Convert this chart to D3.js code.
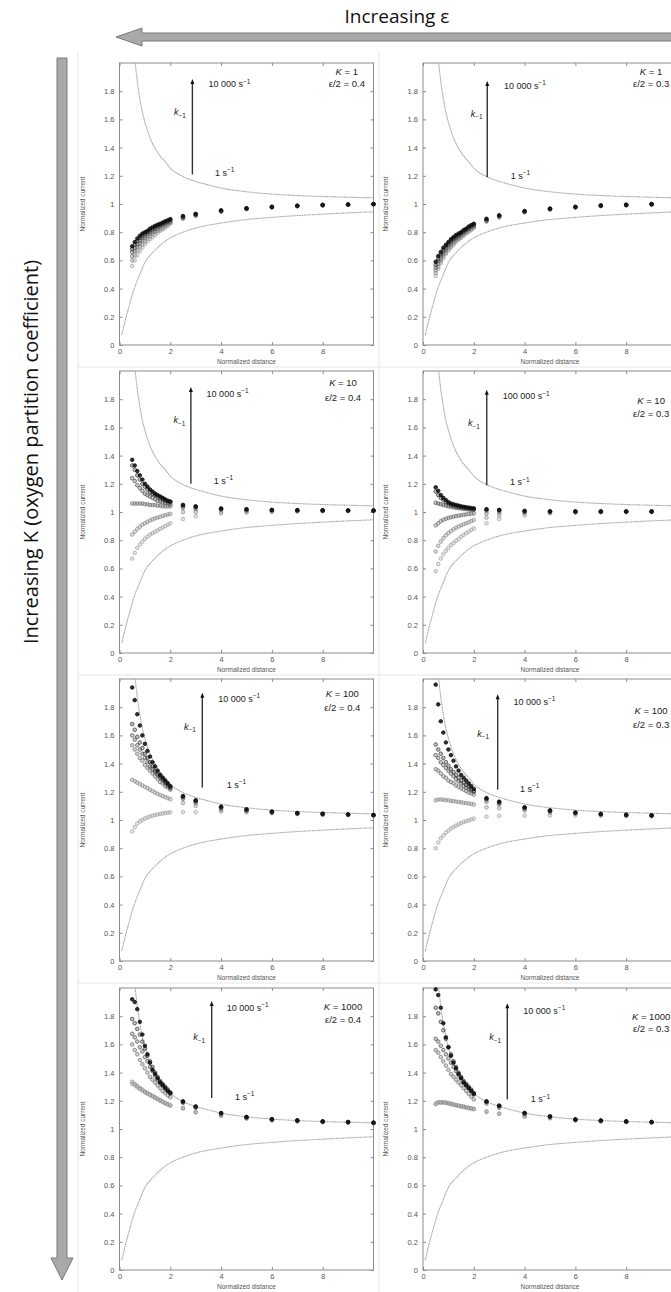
<!DOCTYPE html>
<html>
<head>
<meta charset="utf-8">
<script src="https://cdn.jsdelivr.net/npm/d3@7"></script>
<style>
  html, body { margin: 0; padding: 0; background: #fff; }
  svg { display: block; }
  text { font-family: "Liberation Sans", Arial, sans-serif; }
  .big { font-family: "Open Sans", "Noto Sans", sans-serif; }
</style>
</head>
<body>
<svg id="fig" width="671" height="1292"></svg>
<script>
// ---- Data -----------------------------------------------------------
// Normalized tip-substrate distance of the simulated points
const distance = [0.5,0.6,0.7,0.8,0.9,1.0,1.1,1.2,1.3,1.4,1.5,1.6,1.7,1.8,1.9,2.0,2.5,3,4,5,6,7,8,9,10];

// Limiting approach curves (pure positive and pure negative feedback)
const conductorDistance = [0.55,0.6,0.7,0.8,0.9,1.0,1.2,1.4,1.6,1.8,2.0,2.5,3,3.5,4,5,6,7,8,9,10];
const conductorCurrent  = [2.15,2.04,1.87,1.75,1.65,1.58,1.47,1.395,1.34,1.30,1.255,1.195,1.16,1.135,1.113,1.087,1.07,1.06,1.053,1.048,1.044];
const insulatorDistance = [0.09,0.2,0.3,0.4,0.5,0.6,0.8,1.0,1.25,1.5,1.75,2,2.5,3,3.5,4,5,6,7,8,9,10];
const insulatorCurrent  = [0.07,0.155,0.225,0.29,0.355,0.41,0.50,0.585,0.645,0.69,0.73,0.76,0.80,0.83,0.85,0.865,0.89,0.905,0.918,0.928,0.937,0.945];

// Panel parameters (row-major: K increases downwards, ε/2 = 0.4 left, 0.3 right)
const partitionK   = [1, 1, 10, 10, 100, 100, 1000, 1000];
const halfEpsilon  = ["0.4", "0.3", "0.4", "0.3", "0.4", "0.3", "0.4", "0.3"];
const fastestRate  = ["10 000", "10 000", "10 000", "100 000", "10 000", "10 000", "10 000", "10 000"];
const slowestRate  = ["1", "1", "1", "1", "1", "1", "1", "1"];

// Normalized current, one row per rate constant k-1 (fastest first)
const currentK1e04 = [
  [0.70,0.73,0.755,0.775,0.79,0.80,0.81,0.825,0.835,0.845,0.853,0.86,0.868,0.877,0.885,0.893,0.915,0.93,0.955,0.97,0.98,0.988,0.994,0.997,1.0],
  [0.68,0.71,0.735,0.76,0.775,0.79,0.80,0.815,0.825,0.835,0.845,0.853,0.862,0.87,0.878,0.886,0.91,0.927,0.953,0.968,0.979,0.987,0.993,0.996,0.999],
  [0.66,0.69,0.715,0.74,0.76,0.775,0.79,0.80,0.815,0.825,0.835,0.845,0.855,0.863,0.872,0.88,0.905,0.924,0.95,0.967,0.978,0.986,0.992,0.996,0.999],
  [0.63,0.665,0.695,0.72,0.74,0.76,0.775,0.79,0.80,0.81,0.825,0.835,0.845,0.855,0.864,0.873,0.902,0.921,0.948,0.966,0.977,0.985,0.991,0.995,0.999],
  [0.60,0.635,0.665,0.695,0.715,0.735,0.755,0.77,0.785,0.80,0.81,0.82,0.83,0.843,0.855,0.866,0.898,0.918,0.946,0.965,0.976,0.985,0.99,0.995,0.998],
  [0.56,0.60,0.635,0.665,0.69,0.715,0.735,0.75,0.765,0.78,0.795,0.81,0.82,0.83,0.845,0.86,0.895,0.915,0.945,0.964,0.976,0.984,0.99,0.994,0.998]
];
const currentK1e03 = [
  [0.59,0.63,0.66,0.69,0.71,0.73,0.75,0.765,0.78,0.79,0.80,0.815,0.825,0.84,0.85,0.86,0.895,0.92,0.95,0.967,0.98,0.99,0.995,1.0,1.0],
  [0.57,0.61,0.645,0.675,0.70,0.72,0.74,0.755,0.77,0.78,0.795,0.808,0.82,0.833,0.845,0.855,0.89,0.917,0.948,0.966,0.979,0.989,0.994,0.999,1.0],
  [0.55,0.595,0.63,0.66,0.685,0.71,0.73,0.745,0.76,0.772,0.787,0.80,0.813,0.826,0.838,0.85,0.886,0.914,0.946,0.965,0.978,0.988,0.993,0.998,0.999],
  [0.53,0.575,0.61,0.645,0.67,0.695,0.715,0.733,0.75,0.763,0.778,0.792,0.805,0.818,0.83,0.843,0.882,0.911,0.944,0.963,0.977,0.987,0.992,0.997,0.999],
  [0.51,0.555,0.595,0.63,0.655,0.68,0.70,0.72,0.74,0.754,0.769,0.783,0.797,0.81,0.822,0.836,0.878,0.908,0.942,0.962,0.976,0.986,0.991,0.996,0.998],
  [0.49,0.54,0.58,0.615,0.645,0.67,0.69,0.71,0.73,0.745,0.76,0.775,0.79,0.80,0.815,0.83,0.875,0.905,0.94,0.96,0.975,0.985,0.99,0.995,0.998]
];
const currentK10e04 = [
  [1.37,1.33,1.29,1.26,1.23,1.20,1.18,1.16,1.145,1.13,1.12,1.11,1.10,1.09,1.08,1.075,1.05,1.04,1.025,1.02,1.015,1.013,1.012,1.011,1.01],
  [1.33,1.30,1.26,1.23,1.20,1.18,1.16,1.14,1.13,1.12,1.11,1.10,1.09,1.08,1.075,1.07,1.048,1.038,1.024,1.018,1.014,1.012,1.011,1.01,1.01],
  [1.24,1.22,1.19,1.17,1.15,1.13,1.12,1.11,1.10,1.09,1.08,1.075,1.07,1.065,1.06,1.055,1.04,1.03,1.02,1.015,1.012,1.01,1.01,1.01,1.01],
  [1.06,1.06,1.06,1.06,1.06,1.055,1.055,1.05,1.05,1.05,1.045,1.045,1.04,1.04,1.04,1.04,1.03,1.02,1.015,1.01,1.01,1.01,1.01,1.01,1.01],
  [0.84,0.86,0.88,0.895,0.91,0.92,0.93,0.94,0.948,0.955,0.96,0.966,0.972,0.977,0.982,0.986,1.0,1.0,1.0,1.003,1.005,1.006,1.007,1.008,1.008],
  [0.67,0.71,0.745,0.77,0.79,0.81,0.825,0.84,0.85,0.86,0.87,0.88,0.89,0.90,0.91,0.92,0.95,0.97,0.99,0.995,1.0,1.003,1.005,1.006,1.007]
];
const currentK10e03 = [
  [1.175,1.15,1.12,1.10,1.085,1.07,1.06,1.055,1.05,1.045,1.04,1.037,1.034,1.031,1.028,1.026,1.02,1.015,1.008,1.005,1.004,1.004,1.004,1.004,1.004],
  [1.145,1.12,1.10,1.085,1.07,1.06,1.05,1.045,1.04,1.037,1.034,1.031,1.028,1.025,1.022,1.02,1.017,1.013,1.006,1.004,1.004,1.004,1.004,1.004,1.004],
  [1.065,1.06,1.055,1.05,1.045,1.04,1.037,1.034,1.031,1.028,1.025,1.022,1.02,1.018,1.016,1.015,1.01,1.008,1.004,1.003,1.003,1.003,1.003,1.003,1.003],
  [0.905,0.92,0.935,0.945,0.952,0.958,0.963,0.967,0.971,0.974,0.977,0.98,0.983,0.985,0.987,0.99,0.99,0.995,0.998,1.0,1.0,1.001,1.002,1.002,1.003],
  [0.72,0.76,0.79,0.815,0.835,0.85,0.865,0.877,0.888,0.897,0.905,0.913,0.92,0.927,0.935,0.943,0.96,0.975,0.99,0.995,0.998,1.0,1.0,1.001,1.002],
  [0.58,0.63,0.67,0.70,0.725,0.745,0.765,0.78,0.795,0.81,0.825,0.838,0.85,0.862,0.873,0.884,0.92,0.95,0.975,0.99,0.995,0.998,1.0,1.0,1.001]
];
const currentK100e04 = [
  [1.94,1.85,1.75,1.67,1.60,1.54,1.49,1.45,1.41,1.38,1.35,1.32,1.30,1.28,1.26,1.24,1.17,1.14,1.095,1.076,1.06,1.05,1.045,1.04,1.036],
  [1.68,1.64,1.59,1.55,1.51,1.47,1.44,1.41,1.38,1.35,1.33,1.31,1.29,1.27,1.25,1.23,1.165,1.135,1.09,1.073,1.058,1.048,1.043,1.039,1.035],
  [1.60,1.57,1.53,1.50,1.47,1.44,1.41,1.38,1.36,1.34,1.32,1.30,1.28,1.26,1.245,1.225,1.16,1.13,1.088,1.07,1.056,1.047,1.042,1.038,1.034],
  [1.53,1.50,1.47,1.44,1.42,1.39,1.37,1.35,1.33,1.31,1.29,1.27,1.26,1.24,1.23,1.215,1.15,1.12,1.08,1.065,1.053,1.045,1.04,1.037,1.033],
  [1.285,1.275,1.265,1.255,1.245,1.235,1.225,1.215,1.205,1.195,1.185,1.177,1.17,1.162,1.155,1.147,1.12,1.10,1.07,1.06,1.05,1.043,1.039,1.036,1.032],
  [0.92,0.95,0.975,0.99,1.00,1.01,1.018,1.025,1.03,1.035,1.04,1.043,1.046,1.049,1.052,1.055,1.055,1.055,1.06,1.055,1.048,1.042,1.038,1.035,1.032]
];
const currentK100e03 = [
  [1.96,1.82,1.70,1.62,1.55,1.50,1.46,1.42,1.38,1.35,1.32,1.30,1.28,1.26,1.24,1.22,1.155,1.13,1.09,1.068,1.053,1.043,1.037,1.033,1.03],
  [1.535,1.50,1.47,1.44,1.41,1.385,1.36,1.34,1.32,1.30,1.28,1.265,1.25,1.235,1.22,1.205,1.15,1.125,1.088,1.066,1.052,1.042,1.036,1.032,1.03],
  [1.46,1.44,1.41,1.39,1.37,1.35,1.33,1.31,1.29,1.275,1.26,1.245,1.23,1.22,1.21,1.20,1.145,1.12,1.085,1.064,1.05,1.041,1.035,1.032,1.029],
  [1.36,1.35,1.33,1.31,1.30,1.28,1.27,1.26,1.245,1.235,1.225,1.215,1.205,1.195,1.19,1.18,1.13,1.11,1.078,1.06,1.048,1.04,1.034,1.031,1.028],
  [1.14,1.145,1.145,1.145,1.14,1.14,1.135,1.135,1.13,1.128,1.125,1.122,1.12,1.117,1.114,1.11,1.09,1.083,1.066,1.052,1.044,1.037,1.032,1.03,1.027],
  [0.80,0.84,0.87,0.89,0.91,0.925,0.94,0.95,0.96,0.97,0.978,0.985,0.992,0.998,1.004,1.01,1.024,1.03,1.03,1.032,1.032,1.03,1.028,1.027,1.026]
];
const currentK1000e04 = [
  [1.92,1.90,1.85,1.76,1.67,1.59,1.53,1.47,1.42,1.39,1.36,1.33,1.31,1.29,1.27,1.255,1.196,1.16,1.113,1.085,1.07,1.061,1.054,1.05,1.045],
  [1.78,1.75,1.71,1.67,1.62,1.57,1.52,1.48,1.44,1.40,1.37,1.34,1.32,1.30,1.28,1.26,1.194,1.158,1.112,1.084,1.069,1.06,1.053,1.049,1.044],
  [1.675,1.65,1.62,1.58,1.55,1.51,1.48,1.44,1.41,1.38,1.35,1.33,1.31,1.29,1.27,1.25,1.19,1.155,1.11,1.083,1.068,1.06,1.053,1.048,1.044],
  [1.60,1.56,1.53,1.49,1.46,1.43,1.40,1.37,1.35,1.33,1.31,1.29,1.27,1.255,1.24,1.225,1.185,1.15,1.105,1.08,1.066,1.058,1.052,1.047,1.043],
  [1.335,1.32,1.305,1.29,1.28,1.265,1.255,1.245,1.235,1.225,1.215,1.205,1.195,1.185,1.177,1.168,1.15,1.12,1.095,1.075,1.062,1.055,1.05,1.046,1.042],
  [1.32,1.31,1.295,1.283,1.272,1.26,1.25,1.24,1.23,1.22,1.21,1.2,1.19,1.181,1.173,1.165,1.145,1.118,1.093,1.074,1.061,1.054,1.049,1.045,1.042]
];
const currentK1000e03 = [
  [1.99,1.95,1.86,1.75,1.65,1.58,1.52,1.47,1.43,1.39,1.36,1.33,1.31,1.29,1.27,1.25,1.196,1.166,1.114,1.09,1.068,1.06,1.054,1.05,1.046],
  [1.86,1.82,1.76,1.70,1.64,1.58,1.53,1.48,1.44,1.40,1.37,1.34,1.32,1.30,1.28,1.255,1.194,1.164,1.113,1.089,1.067,1.059,1.053,1.049,1.045],
  [1.64,1.62,1.59,1.56,1.53,1.50,1.47,1.44,1.41,1.38,1.36,1.33,1.31,1.29,1.27,1.245,1.19,1.16,1.11,1.087,1.066,1.058,1.053,1.049,1.045],
  [1.56,1.54,1.51,1.48,1.45,1.42,1.39,1.37,1.35,1.33,1.31,1.29,1.27,1.25,1.23,1.21,1.18,1.15,1.105,1.084,1.065,1.057,1.052,1.048,1.044],
  [1.18,1.19,1.19,1.19,1.188,1.185,1.18,1.175,1.17,1.167,1.163,1.16,1.155,1.15,1.147,1.143,1.125,1.11,1.09,1.078,1.062,1.055,1.05,1.047,1.043],
  [1.175,1.185,1.187,1.186,1.184,1.18,1.176,1.171,1.167,1.163,1.159,1.155,1.151,1.147,1.143,1.14,1.12,1.107,1.088,1.076,1.061,1.054,1.05,1.046,1.043]
];
const panelCurrents = [currentK1e04, currentK1e03, currentK10e04, currentK10e03,
                       currentK100e04, currentK100e03, currentK1000e04, currentK1000e03];

const yTicks = [0, 0.2, 0.4, 0.6, 0.8, 1, 1.2, 1.4, 1.6, 1.8];
const xTicks = [0, 2, 4, 6, 8];

// ---- Layout ---------------------------------------------------------
const colLeft = [119.5, 423];
const rowTop  = [63, 371, 679, 988];
const plotW = 254, plotH = 282;

// annotation placement per panel, in data units:
// arrow x, arrow bottom, arrow top, fast-label x/y, k label x/y, slow-label x/y, K label x/y, ε label y
const notePlace = [
  {ax: 2.87, ay0: 1.21, ay1: 1.88, fx: 3.50, fy: 1.85, kx: 2.38, ky: 1.65, sx: 3.76, sy: 1.22, Ky: 1.94, Ey: 1.855, Kx: 8.95},
  {ax: 2.53, ay0: 1.19, ay1: 1.865, fx: 3.19, fy: 1.84, kx: 2.11, ky: 1.64, sx: 3.45, sy: 1.20, Ky: 1.94, Ey: 1.855, Kx: 8.98},
  {ax: 2.81, ay0: 1.20, ay1: 1.88, fx: 3.43, fy: 1.84, kx: 2.36, ky: 1.65, sx: 3.71, sy: 1.22, Ky: 1.915, Ey: 1.815, Kx: 8.8},
  {ax: 2.51, ay0: 1.19, ay1: 1.86, fx: 3.14, fy: 1.82, kx: 2.01, ky: 1.63, sx: 3.43, sy: 1.21, Ky: 1.79, Ey: 1.70, Kx: 8.98},
  {ax: 3.26, ay0: 1.23, ay1: 1.895, fx: 3.89, fy: 1.86, kx: 2.77, ky: 1.66, sx: 4.22, sy: 1.25, Ky: 1.90, Ey: 1.80, Kx: 8.77},
  {ax: 2.94, ay0: 1.215, ay1: 1.885, fx: 3.56, fy: 1.84, kx: 2.37, ky: 1.61, sx: 3.82, sy: 1.22, Ky: 1.78, Ey: 1.68, Kx: 8.98},
  {ax: 3.63, ay0: 1.22, ay1: 1.90, fx: 4.22, fy: 1.86, kx: 3.14, ky: 1.65, sx: 4.55, sy: 1.23, Ky: 1.87, Ey: 1.78, Kx: 8.8},
  {ax: 3.32, ay0: 1.21, ay1: 1.885, fx: 3.95, fy: 1.84, kx: 2.84, ky: 1.65, sx: 4.24, sy: 1.21, Ky: 1.80, Ey: 1.71, Kx: 8.98}
];

const shadeStroke = ["#0c0c0c", "#3a3a3a", "#585858", "#747474", "#8e8e8e", "#a6a6a6"];

const svg = d3.select("#fig");

// faint borders between the sub-figures
const borders = svg.append("g").attr("stroke", "#e6e6e6").attr("stroke-width", 1);
[78, 379].forEach(xx => borders.append("line").attr("x1", xx).attr("x2", xx).attr("y1", 52).attr("y2", 1292));
[367, 675, 983].forEach(yy => borders.append("line").attr("x1", 78).attr("x2", 671).attr("y1", yy).attr("y2", yy));

const fmtTick = d => String(+d.toFixed(1));

partitionK.forEach((K, i) => {
  const col = i % 2, row = Math.floor(i / 2);
  const left = colLeft[col], top = rowTop[row];
  const x = d3.scaleLinear().domain([0, 10]).range([left, left + plotW]);
  const y = d3.scaleLinear().domain([0, 2]).range([top + plotH, top]);
  const g = svg.append("g");
  const clipId = "clip" + i;
  g.append("clipPath").attr("id", clipId)
    .append("rect").attr("x", left).attr("y", top).attr("width", plotW).attr("height", plotH);

  // axes with inward ticks on all four sides
  const axL = g.append("g").attr("transform", `translate(${left},0)`)
    .call(d3.axisLeft(y).tickValues(yTicks).tickSize(-3).tickPadding(5).tickFormat(fmtTick));
  const axR = g.append("g").attr("transform", `translate(${left + plotW},0)`)
    .call(d3.axisRight(y).tickValues(yTicks).tickSize(-3).tickFormat(""));
  const axB = g.append("g").attr("transform", `translate(0,${top + plotH})`)
    .call(d3.axisBottom(x).tickValues(xTicks).tickSize(-3).tickPadding(4).tickFormat(d3.format("d")));
  const axT = g.append("g").attr("transform", `translate(0,${top})`)
    .call(d3.axisTop(x).tickValues(xTicks).tickSize(-3).tickFormat(""));
  [axL, axR, axB, axT].forEach(a => {
    a.select(".domain").remove();
    a.selectAll(".tick line").attr("stroke", "#8a8a8a");
    a.selectAll(".tick text").attr("fill", "#555").attr("font-size", 7.5);
  });

  g.append("rect").attr("x", left).attr("y", top).attr("width", plotW).attr("height", plotH)
    .attr("fill", "none").attr("stroke", "#8c8c8c").attr("stroke-width", 1);

  g.append("text").attr("x", left + plotW / 2).attr("y", top + plotH + 19)
    .attr("text-anchor", "middle").attr("font-size", 6.5).attr("fill", "#555")
    .text("Normalized distance");
  g.append("text").attr("transform", `translate(${left - 35},${top + plotH / 2}) rotate(-90)`)
    .attr("text-anchor", "middle").attr("font-size", 6.5).attr("fill", "#555")
    .text("Normalized current");

  // limiting approach curves
  const theory = g.append("g").attr("clip-path", `url(#${clipId})`);
  const line = d3.line().x(d => x(d[0])).y(d => y(d[1])).curve(d3.curveMonotoneX);
  [[conductorDistance, conductorCurrent], [insulatorDistance, insulatorCurrent]].forEach(([xs, ys]) => {
    theory.append("path").datum(d3.zip(xs, ys)).attr("d", line)
      .attr("fill", "none").attr("stroke", "#a4a4a4").attr("stroke-width", 1.1)
      .attr("stroke-dasharray", "1.2 0.5");
  });

  // simulated points, slowest rate drawn first
  const series = panelCurrents[i];
  for (let s = series.length - 1; s >= 0; s--) {
    g.append("g").selectAll("circle").data(d3.zip(distance, series[s])).join("circle")
      .attr("cx", d => x(d[0])).attr("cy", d => y(d[1])).attr("r", 1.8)
      .attr("fill", shadeStroke[s]).attr("fill-opacity", s === 0 ? 0.85 : 0.3)
      .attr("stroke", shadeStroke[s]).attr("stroke-width", 0.75);
  }

  // k-1 arrow
  const n = notePlace[i];
  g.append("line").attr("x1", x(n.ax)).attr("x2", x(n.ax)).attr("y1", y(n.ay0)).attr("y2", y(n.ay1) + 3)
    .attr("stroke", "#333").attr("stroke-width", 1.4);
  const tx = x(n.ax), ty = y(n.ay1);
  g.append("path").attr("d", `M${tx},${ty - 1}L${tx - 2},${ty + 4}L${tx + 2},${ty + 4}Z`).attr("fill", "#111");

  const rateLabel = (xx, yy, value) => {
    const t = g.append("text").attr("x", x(xx)).attr("y", y(yy) + 3).attr("font-size", 9).attr("fill", "#222");
    t.append("tspan").text(value + " s");
    t.append("tspan").attr("dy", -3.5).attr("font-size", 6.5).text("\u22121");
  };
  rateLabel(n.fx, n.fy, fastestRate[i]);
  rateLabel(n.sx, n.sy, slowestRate[i]);

  const kt = g.append("text").attr("x", x(n.kx)).attr("y", y(n.ky) + 3).attr("text-anchor", "middle")
    .attr("font-size", 9).attr("fill", "#222");
  kt.append("tspan").attr("font-style", "italic").text("k");
  kt.append("tspan").attr("dy", 2.5).attr("font-size", 6.5).text("\u22121");

  const Kt = g.append("text").attr("x", x(n.Kx)).attr("y", y(n.Ky) + 3.5).attr("text-anchor", "middle")
    .attr("font-size", 9.5).attr("fill", "#222");
  Kt.append("tspan").attr("font-style", "italic").text("K");
  Kt.append("tspan").text(" = " + K);
  g.append("text").attr("x", x(n.Kx)).attr("y", y(n.Ey) + 3.5).attr("text-anchor", "middle")
    .attr("font-size", 9.5).attr("fill", "#222").text("\u03b5/2 = " + halfEpsilon[i]);
});

// ---- Outer annotations ---------------------------------------------
// horizontal arrow: ε increases to the left
svg.append("path")
  .attr("d", "M116,37 L142,28 L142,33 L672,33 L672,41 L142,41 L142,46 Z")
  .attr("fill", "#a9a9a9").attr("stroke", "#7a7a7a").attr("stroke-width", 1);
svg.append("text").attr("class", "big").attr("x", 397).attr("y", 23).attr("text-anchor", "middle")
  .attr("font-size", 19).attr("fill", "#111").text("Increasing \u03b5");

// vertical arrow: K increases downwards
svg.append("path")
  .attr("d", "M57,58 L67,58 L67,1258 L73,1258 L62,1280 L51,1258 L57,1258 Z")
  .attr("fill", "#a9a9a9").attr("stroke", "#7a7a7a").attr("stroke-width", 1);
svg.append("text").attr("class", "big").attr("transform", "translate(38,452) rotate(-90)")
  .attr("text-anchor", "middle").attr("font-size", 20).attr("fill", "#111")
  .text("Increasing K (oxygen partition coefficient)");
</script>
</body>
</html>
